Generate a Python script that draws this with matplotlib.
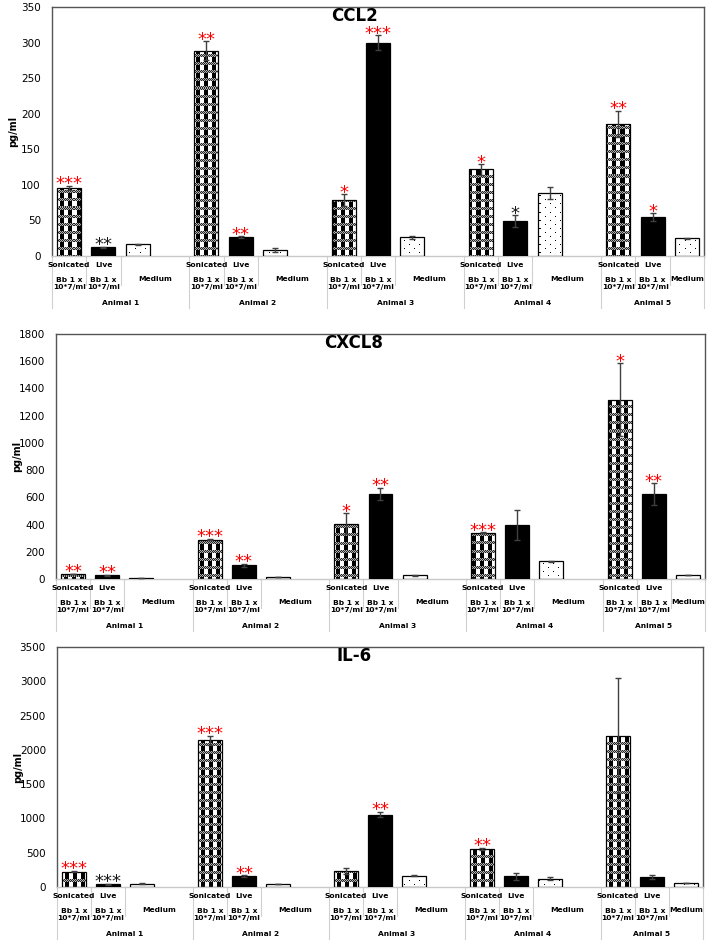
import numpy as np
import matplotlib.pyplot as plt
from matplotlib.transforms import blended_transform_factory

# categories
animals = ["Animal 1", "Animal 2", "Animal 3", "Animal 4", "Animal 5"]
conditions = ["Sonicated", "Live", "Medium"]
dose_label = "Bb 1 x\n10*7/ml"

# values per animal: Sonicated, Live, Medium
ccl2_vals = [96, 12, 16.4, 288.7, 26.7, 8.4, 78.6, 300, 26.2, 121.7, 49, 89, 185.8, 54.3, 24.8]
ccl2_err = [3, 1, 0.5, 13, 1, 2.5, 8, 10.5, 2, 7.5, 8, 8.5, 18, 5.5, 0.5]
ccl2_stars = ["***", "**", "", "**", "**", "", "*", "***", "", "*", "*", "", "**", "*", ""]
ccl2_star_cols = ["r", "k", "", "r", "r", "", "r", "r", "", "r", "k", "", "r", "r", ""]

cxcl8_vals = [37, 27, 10, 289, 100, 17, 406, 624, 27, 340, 396, 130, 1318, 624, 29]
cxcl8_err = [3, 3, 1, 5, 10, 1, 78, 46, 3, 2, 108, 5, 267, 80, 2]
cxcl8_stars = ["**", "**", "", "***", "**", "", "*", "**", "", "***", "", "", "*", "**", ""]
cxcl8_star_cols = ["r", "r", "", "r", "r", "", "r", "r", "", "r", "", "", "r", "r", ""]

il6_vals = [224, 39, 49, 2139, 160, 44, 238, 1055, 165, 554, 156, 122, 2207, 151, 63]
il6_err = [10, 5, 5, 63, 10, 5, 44, 40, 5, 20, 53, 20, 841, 29, 2]
il6_stars = ["***", "***", "", "***", "**", "", "", "**", "", "**", "", "", "", "", ""]
il6_star_cols = ["r", "k", "", "r", "r", "", "", "r", "", "r", "", "", "", "", ""]

STAR_COLORS = {"r": "#ff0000", "k": "#1a1a1a"}


def pattern(kind, h, w):
    # excel-like fill patterns, one image pixel per screen pixel
    if kind == "check":
        tile = np.ones((8, 8))
        for r in range(3):
            for c in range(8):
                tile[r, c] = 0.15 if (r + c) % 2 else 0.7
        tile[3:8, 0:4] = 0.0
        tile[3:8, 4:8] = 1.0
    else:
        tile = np.ones((8, 10))
        tile[1, 2] = 0.0
        tile[5, 7] = 0.0
    th, tw = tile.shape
    return np.tile(tile, (h // th + 1, w // tw + 1))[:h, :w]


fig = plt.figure(figsize=(7.08, 9.42), dpi=100)

panels = [
    ("CCL2", ccl2_vals, ccl2_err, ccl2_stars, ccl2_star_cols, 350, 50, (52, 7, 704, 256)),
    ("CXCL8", cxcl8_vals, cxcl8_err, cxcl8_stars, cxcl8_star_cols, 1800, 200, (56, 334, 705, 579)),
    ("IL-6", il6_vals, il6_err, il6_stars, il6_star_cols, 3500, 500, (57, 647, 703, 887)),
]

W, H = 708, 942
for title, vals, errs, stars, star_cols, ymax, ystep, (x0, y0, x1, y1) in panels:
    ax = fig.add_axes([x0 / W, 1 - y1 / H, (x1 - x0) / W, (y1 - y0) / H])
    pos = [4 * a + c for a in range(len(animals)) for c in range(len(conditions))]
    cond = [c for a in range(len(animals)) for c in range(len(conditions))]

    face = ["black" if c == 1 else "none" for c in cond]
    bars = ax.bar(pos, vals, width=0.7, color=face, edgecolor="black", linewidth=0.9, zorder=3)

    hp, wp = int(round(ax.bbox.height)), int(round(ax.bbox.width))
    imgs = {"check": pattern("check", hp, wp), "dots": pattern("dots", hp, wp)}
    for bar, c in zip(bars, cond):
        if c == 1:
            continue
        im = ax.imshow(imgs["check" if c == 0 else "dots"], extent=(0, 1, 0, 1),
                       transform=ax.transAxes, cmap="gray", vmin=0, vmax=1,
                       interpolation="nearest", aspect="auto", zorder=2)
        im.set_clip_path(bar)

    ax.errorbar(pos, vals, yerr=errs, fmt="none", ecolor="#404040", elinewidth=1,
                capsize=2.5, capthick=1, zorder=4)

    for p, v, e, s, sc in zip(pos, vals, errs, stars, star_cols):
        if s:
            ax.annotate(s, xy=(p, v + e), xytext=(0, -2.5), textcoords="offset points",
                        ha="center", va="baseline", fontsize=13, color=STAR_COLORS[sc],
                        zorder=5)

    ax.set_xlim(-0.5, 18.5)
    ax.set_ylim(0, ymax)
    ax.set_yticks(np.arange(0, ymax + 1, ystep))
    ax.set_xticks([])
    ax.tick_params(axis="y", length=0, pad=8, labelsize=7.5)
    for side in ["left", "top", "right"]:
        ax.spines[side].set_color("#555555")
        ax.spines[side].set_linewidth(1)
    ax.spines["bottom"].set_color("#c8c8c8")
    ax.spines["bottom"].set_linewidth(1)

    ax.set_ylabel("pg/ml", fontsize=7, fontweight="bold")
    ax.yaxis.set_label_coords(-34 / wp, 0.5)

    tt = blended_transform_factory(fig.transFigure, ax.transAxes)
    ax.text(0.5, 1.0, title, transform=tt, ha="center", va="top",
            fontsize=12, fontweight="bold")

    # multi-level category axis
    xt = ax.get_xaxis_transform()

    def below(px):
        return -px / hp

    lab = dict(transform=xt, ha="center", va="center", fontsize=5.4, fontweight="bold")
    line = dict(transform=xt, color="#d0d0d0", linewidth=0.8, clip_on=False)
    for a, name in enumerate(animals):
        base = 4 * a
        last = a == len(animals) - 1
        ax.text(base, below(9), conditions[0], **lab)
        ax.text(base + 1, below(9), conditions[1], **lab)
        ax.text(base, below(27.5), dose_label, linespacing=1.15, **lab)
        ax.text(base + 1, below(27.5), dose_label, linespacing=1.15, **lab)
        ax.text(base + (2 if last else 2.5), below(23), conditions[2], **lab)
        ax.text(base + (1 if last else 1.5), below(47), name, **lab)
        ax.plot([base + 0.5, base + 0.5], [0, below(29)], **line)
        ax.plot([base + 1.5, base + 1.5], [0, below(29)], **line)
        ax.plot([base - 0.5, base - 0.5], [0, below(52)], **line)
    ax.plot([18.5, 18.5], [0, below(52)], **line)

fig.savefig("out.png", dpi=100)
